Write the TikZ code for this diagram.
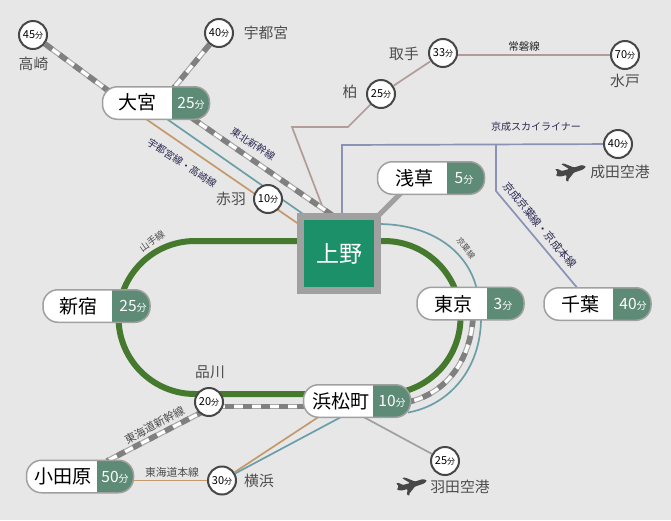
\documentclass[tikz,border=0pt]{standalone}
\usepackage{fontspec}
\setmainfont{Noto Sans CJK JP}
\usetikzlibrary{backgrounds}

\definecolor{mapbg}{HTML}{E7E7E7}
\definecolor{uenogreen}{HTML}{1C9068}
\definecolor{timegreen}{HTML}{5D8B75}
\definecolor{loopgreen}{HTML}{457A2E}
\definecolor{pillgray}{HTML}{A0A0A0}
\definecolor{tealline}{HTML}{6A9FA8}
\definecolor{tanline}{HTML}{C49A6C}
\definecolor{pinkline}{HTML}{B29C98}
\definecolor{blueline}{HTML}{8A92B6}
\definecolor{linetext}{HTML}{2B2952}
\definecolor{statext}{HTML}{4D4D4D}

\newcommand{\pillfun}{{\fontsize{10}{10}\selectfont 分}}
\newcommand{\circfun}{{\fontsize{8}{8}\selectfont 分}}

\tikzset{
    pill/.style={draw=pillgray, line width=1.5pt, fill=white, rounded corners=15pt,
        minimum width=107pt, minimum height=32.5pt, inner sep=0pt,
        path picture={\fill[timegreen, sharp corners] ([xshift=-#1]path picture bounding box.north east) rectangle (path picture bounding box.south east);}},
    pillname/.style={inner sep=0pt, font=\fontsize{19}{19}\selectfont},
    pilltime/.style={inner sep=0pt, text=white, font=\fontsize{15.5}{15.5}\selectfont},
    timecircle/.style={circle, draw=black!72, line width=2pt, fill=white, minimum size=28pt, inner sep=0pt, font=\fontsize{11}{11}\selectfont},
    stalabel/.style={inner sep=0pt, text=statext, font=\fontsize{14.8}{14.8}\selectfont},
    linelabel/.style={inner sep=0pt, text=linetext, font=\fontsize{10}{10}\selectfont},
    shinkansen/.style={draw=black!35, line width=5.5pt,
        postaction={draw=white, line width=3.2pt},
        postaction={draw=black!50, line width=5.5pt, dash pattern=on 9pt off 9pt}},
    tealtrack/.style={draw=tealline, line width=1.7pt},
    tantrack/.style={draw=tanline, line width=1.7pt},
    pinktrack/.style={draw=pinkline, line width=1.7pt},
    bluetrack/.style={draw=blueline, line width=1.7pt},
    pics/plane/.style={code={
        \fill[black!72, rounded corners=0.8pt] (16,-5.5) -- (13,-2.5) -- (4,0.5) -- (-2,8) -- (-1,9.5) -- (-4,9)
            -- (-3.5,3) -- (-9,4.5) -- (-14,4) -- (-12.5,0) -- (-15,-3) -- (-12,-3) -- (-8,-1) -- (-1,-3)
            -- (-9,-8) -- (-6,-8.5) -- (4,-4.5) -- (12,-7) -- cycle;
    }}
}

\begin{document}
\begin{tikzpicture}[x=1pt,y=-1pt]
            % Main station and pills

            \node[draw=pillgray, line width=7pt, fill=uenogreen, minimum width=77pt, minimum height=74pt, inner sep=0pt,
                text=white, font=\fontsize{23}{23}\selectfont] (ueno) at (339,253.5) {上野};

            \node[pill=38pt] (omiya) at (156,103) {};
            \node[pillname] (omiyaname) at (137,102.5) {大宮};
            \node[pilltime] (omiyatime) at (191,103) {25\pillfun};

            \node[pill=38pt] (asakusa) at (431,178) {};
            \node[pillname] (asakusaname) at (414,178) {浅草};
            \node[pilltime] (asakusatime) at (464,178) {5\pillfun};

            \node[pill=37pt] (tokyo) at (470.5,303.5) {};
            \node[pillname] (tokyoname) at (453,304) {東京};
            \node[pilltime] (tokyotime) at (503,304) {3\pillfun};

            \node[pill=38pt] (chiba) at (597.5,304) {};
            \node[pillname] (chibaname) at (580,304) {千葉};
            \node[pilltime] (chibatime) at (633,304) {40\pillfun};

            \node[pill=38pt] (shinjuku) at (96.5,306) {};
            \node[pillname] (shinjukuname) at (78,306) {新宿};
            \node[pilltime] (shinjukutime) at (133,306) {25\pillfun};

            \node[pill=38pt] (hamamatsucho) at (357,401) {};
            \node[pillname] (hamamatsuchoname) at (341,401) {浜松町};
            \node[pilltime] (hamamatsuchotime) at (392,401) {10\pillfun};

            \node[pill=37pt] (odawara) at (80,476.5) {};
            \node[pillname] (odawaraname) at (63,476) {小田原};
            \node[pilltime] (odawaratime) at (115,477) {50\pillfun};

            % Time circles

            \node[timecircle] (takasaki) at (33,35) {45\circfun};
            \node[timecircle] (utsunomiya) at (219,33) {40\circfun};
            \node[timecircle] (akabane) at (268,199) {10\circfun};
            \node[timecircle] (toride) at (443,53) {33\circfun};
            \node[timecircle] (mito) at (625,55) {70\circfun};
            \node[timecircle] (kashiwa) at (381,94) {25\circfun};
            \node[timecircle] (narita) at (618,144) {40\circfun};
            \node[timecircle] (shinagawa) at (209,402) {20\circfun};
            \node[timecircle] (yokohama) at (222,480.5) {30\circfun};
            \node[timecircle] (haneda) at (445,461) {25\circfun};

            % Free ends of the lines

            \coordinate (omiyaNW) at (110,92);
            \coordinate (omiyaN) at (172,90);
            \coordinate (omiyaSE) at (192,118);
            \coordinate (omiyaTeal) at (164,117);
            \coordinate (omiyaTan) at (143,117);
            \coordinate (uenoShink) at (332,215);
            \coordinate (uenoTeal) at (306,216);
            \coordinate (uenoTan) at (303,227);
            \coordinate (uenoPink) at (326,216);
            \coordinate (uenoBlue) at (342,216);
            \coordinate (pinkA) at (292,127);
            \coordinate (pinkB) at (348,127);
            \coordinate (torideE) at (445,55);
            \coordinate (blueA) at (342,145);
            \coordinate (blueB) at (496,145);
            \coordinate (blueC) at (496,191);
            \coordinate (chibaTop) at (579,290);
            \coordinate (asakusaFoot) at (402,192);
            \coordinate (uenoCorner) at (375,219);
            \coordinate (tealA) at (378,224);
            \coordinate (tokyoTop) at (477,290);
            \coordinate (tokyoBot) at (481,318);
            \coordinate (hamaRight) at (408,412.5);
            \coordinate (tokyoBotS) at (473,318);
            \coordinate (hamaRightS) at (408,402);
            \coordinate (hamaLeft) at (306,406.5);
            \coordinate (shinaE) at (215,406.5);
            \coordinate (shinaSW) at (205,410.5);
            \coordinate (odawaraTop) at (107,461);
            \coordinate (odawaraRight) at (130,480.5);
            \coordinate (hamaTan) at (320,416);
            \coordinate (hamaTeal) at (343,416);
            \coordinate (hamaGray) at (358,414);
            \coordinate (loopNW) at (195,241);
            \coordinate (loopNE) at (384,241);
            \coordinate (loopSW) at (195,394);

            \begin{pgfonlayer}{background}
            \fill[mapbg] (0,0) rectangle (671,520);
            \useasboundingbox (0,0) rectangle (671,520);

            % Yamanote loop

            \draw[loopgreen, line width=6pt] (loopNW) -- (loopNE) arc (-90:90:76.5) -- (loopSW) arc (90:270:76.5) -- cycle;

            % Lines to the north

            \draw[shinkansen] (takasaki) -- (omiyaNW);
            \draw[shinkansen] (utsunomiya) -- (omiyaN);
            \draw[pinktrack] (uenoPink) -- (pinkA) -- (pinkB) -- (kashiwa) -- (toride);
            \draw[pinktrack] (torideE) -- (mito);
            \draw[shinkansen] (omiyaSE) -- (uenoShink);
            \draw[tealtrack] (omiyaTeal) -- (uenoTeal);
            \draw[tantrack] (omiyaTan) -- (uenoTan);

            % Keisei lines

            \draw[bluetrack] (uenoBlue) -- (blueA) -- (narita);
            \draw[bluetrack] (blueB) -- (blueC) -- (chibaTop);
            \draw[pillgray, line width=5pt] (asakusaFoot) -- (uenoCorner);

            % Lines round the east side

            \draw[tealtrack] (tealA) .. controls (430,224) and (468,250) .. (tokyoTop);
            \draw[tealtrack] (tokyoBot) .. controls (481,368) and (450,405) .. (hamaRight);
            \draw[shinkansen] (tokyoBotS) .. controls (470,362) and (445,394) .. (hamaRightS);

            % Lines to the south

            \draw[shinkansen] (hamaLeft) -- (shinaE);
            \draw[shinkansen] (shinaSW) -- (odawaraTop);
            \draw[tantrack] (odawaraRight) -- (yokohama);
            \draw[tantrack] (yokohama) -- (hamaTan);
            \draw[tealtrack] (yokohama) -- (hamaTeal);
            \draw[pillgray, line width=1.7pt] (hamaGray) -- (haneda);
            \end{pgfonlayer}

            % Station names

            \node[stalabel] (takasakiname) at (33.5,64) {高崎};
            \node[stalabel] (utsunomiyaname) at (266,33) {宇都宮};
            \node[stalabel] (akabanename) at (231,199) {赤羽};
            \node[stalabel] (toridename) at (404,54) {取手};
            \node[stalabel] (kashiwaname) at (350,92) {柏};
            \node[stalabel] (mitoname) at (625,81) {水戸};
            \node[stalabel] (naritaname) at (620,172) {成田空港};
            \node[stalabel] (shinagawaname) at (210,372) {品川};
            \node[stalabel] (yokohamaname) at (259,481) {横浜};
            \node[stalabel] (hanedaname) at (460,487) {羽田空港};

            % Line names

            \node[linelabel, rotate=-33] (tohokulabel) at (253,144) {東北新幹線};
            \node[linelabel, rotate=-33] (utsulabel) at (182,163) {宇都宮線・高崎線};
            \node[linelabel, text=black!85, font=\fontsize{10.5}{10.5}\selectfont] (jobanlabel) at (524,46.5) {常磐線};
            \node[linelabel] (skylabel) at (536,127) {京成スカイライナー};
            \node[linelabel, rotate=-50, font=\fontsize{10.8}{10.8}\selectfont] (keiseilabel) at (540,225) {京成京葉線・京成本線};
            \node[linelabel, rotate=28, text=statext, font=\fontsize{11}{11}\selectfont] (tokaidolabel) at (154.5,425) {東海道新幹線};
            \node[linelabel, text=statext, font=\fontsize{10.8}{10.8}\selectfont] (honsenlabel) at (172,472) {東海道本線};
            \node[linelabel, rotate=35, text=statext, font=\fontsize{9.5}{9.5}\selectfont] (yamanotelabel) at (152,241) {山手線};
            \node[linelabel, rotate=-52, text=statext, font=\fontsize{8}{8}\selectfont] (keiyolabel) at (466,248) {京葉線};

            % Airport planes

            \pic at (570,172) {plane};
            \pic at (411,486) {plane};
\end{tikzpicture}
\end{document}
